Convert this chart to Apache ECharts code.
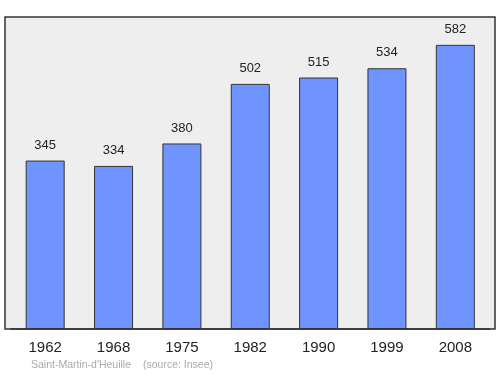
<!DOCTYPE html>
<html><head><meta charset="utf-8">
<script src="https://cdn.jsdelivr.net/npm/echarts@6/dist/echarts.min.js"></script>
<style>html,body{margin:0;padding:0;background:#fff}#c{width:500px;height:374px}</style>
</head><body><div id="c"></div>
<script>
const years = ['1962','1968','1975','1982','1990','1999','2008'];
const population = [345,334,380,502,515,534,582];
const chart = echarts.init(document.getElementById('c'), null, {renderer:'canvas'});
chart.setOption({
  animation:false,
  graphic:[
    {type:'rect', z:-10, shape:{x:5,y:17,width:490,height:312}, style:{fill:'#eeeeee', stroke:'#333', lineWidth:1.5}},
    {type:'text', left:31, top:360, style:{text:"Saint-Martin-d'Heuille", fill:'#aaaaaa', font:'10.5px "Liberation Sans", Arial, sans-serif'}},
    {type:'text', left:143, top:360, style:{text:"(source: Insee)", fill:'#aaaaaa', font:'10.5px "Liberation Sans", Arial, sans-serif'}}
  ],
  grid:{left:11, right:10.5, top:17, bottom:45, containLabel:false},
  xAxis:{type:'category', data:years,
    axisLine:{show:true, lineStyle:{color:'#333', width:1.5}}, axisTick:{show:false},
    axisLabel:{color:'#222', fontSize:15, margin:11, fontFamily:'"Liberation Sans", Arial, sans-serif'}},
  yAxis:{type:'value', min:0, max:639, show:false, splitLine:{show:false}},
  series:[{type:'bar', data:population, barWidth:39,
    itemStyle:{color:'#7094ff', borderColor:'#333', borderWidth:1},
    label:{show:true, position:'top', distance:9, color:'#222', fontSize:13, fontFamily:'"Liberation Sans", Arial, sans-serif'}}]
});
</script></body></html>
